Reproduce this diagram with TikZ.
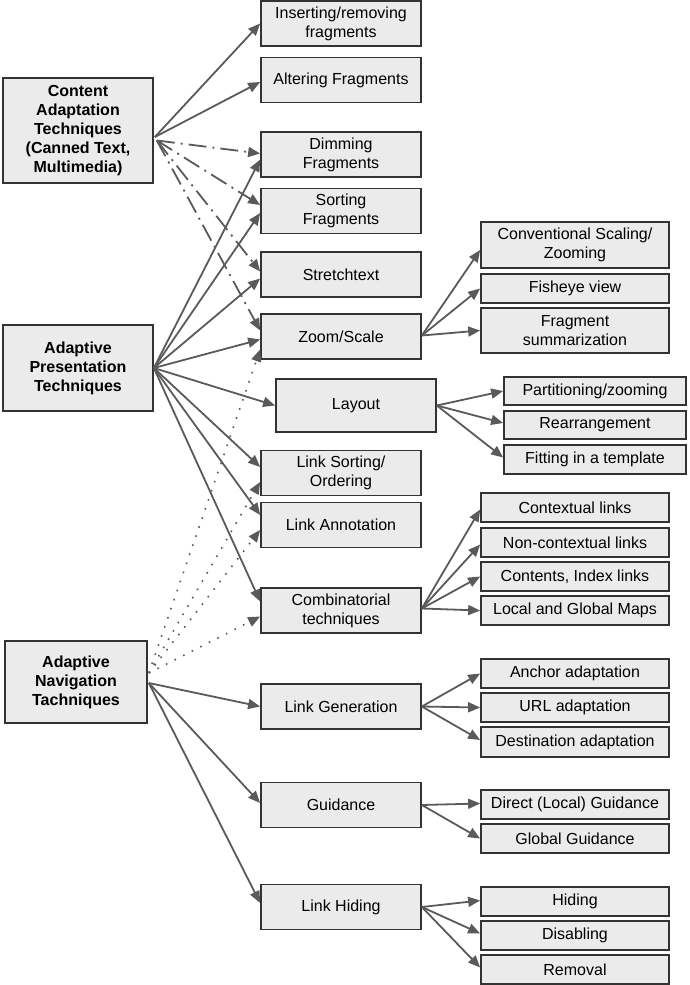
\documentclass[tikz,border=0pt]{standalone}
\usepackage{fontspec}
\setmainfont{Liberation Sans}
\usetikzlibrary{arrows.meta,calc}
\definecolor{boxfill}{HTML}{EBEBEB}
\definecolor{boxline}{HTML}{333333}
\definecolor{edgecol}{HTML}{5A5A5A}
\tikzset{
  box/.style={draw=boxline, line width=1.7pt, fill=boxfill, align=center,
    font=\fontsize{16}{19}\selectfont, inner sep=0pt},
  tbox/.style={box, font=\bfseries\fontsize{16}{19}\selectfont},
  c2/.style={box, minimum width=160pt, minimum height=45pt},
  c3/.style={box, minimum width=188pt, minimum height=29pt},
  c3b/.style={box, minimum width=182pt, minimum height=28pt},
  arr/.style={color=edgecol, line width=1.8pt, -{Triangle[length=12pt,width=10pt]}},
  dashdot/.style={arr, dash pattern=on 18pt off 6pt on 2pt off 6pt},
  dots/.style={arr, line width=1.6pt, dash pattern=on 1.6pt off 8pt},
}
\begin{document}
\begin{tikzpicture}[x=1pt,y=-1pt]
\useasboundingbox (0,0) rectangle (689,985);
% left column
\node[tbox, minimum width=150pt, minimum height=105pt] (cat) at (78,130.5)
  {Content\\Adaptation\\Techniques\\(Canned Text,\\Multimedia)};
\node[tbox, minimum width=150pt, minimum height=86pt] (apt) at (78,368)
  {Adaptive\\Presentation\\Techniques};
\node[tbox, minimum width=142pt, minimum height=82pt] (ant) at (76,682)
  {Adaptive\\Navigation\\Tachniques};
% middle column
\node[c2] (ins) at (341,23.5) {Inserting/removing\\fragments};
\node[c2] (alt) at (341,80) {Altering Fragments};
\node[c2] (dim) at (341,154.5) {Dimming\\Fragments};
\node[c2] (sor) at (341,211) {Sorting\\Fragments};
\node[c2] (str) at (341,274.5) {Stretchtext};
\node[c2] (zoo) at (341,336.5) {Zoom/Scale};
\node[c2, minimum height=53pt] (lay) at (356,405.5) {Layout};
\node[c2] (lso) at (341,473) {Link Sorting/\\Ordering};
\node[c2] (lan) at (341,525) {Link Annotation};
\node[c2] (com) at (341,610.5) {Combinatorial\\techniques};
\node[c2] (lge) at (341,706.5) {Link Generation};
\node[c2] (gui) at (341,805) {Guidance};
\node[c2] (lhi) at (341,907) {Link Hiding};
% right column
\node[c3, minimum height=46pt] (con) at (575,245) {Conventional Scaling/\\Zooming};
\node[c3] (fis) at (575,288.5) {Fisheye view};
\node[c3, minimum height=45pt] (fra) at (575,330.5) {Fragment\\summarization};
\node[c3b] (par) at (595,391) {Partitioning/zooming};
\node[c3b] (rea) at (595,425) {Rearrangement};
\node[c3b, minimum height=29pt] (fit) at (595,459.5) {Fitting in a template};
\node[c3] (ctx) at (575,507.5) {Contextual links};
\node[c3] (nct) at (575,542.5) {Non-contextual links};
\node[c3] (cin) at (575,576.5) {Contents, Index links};
\node[c3] (lgm) at (575,610.5) {Local and Global Maps};
\node[c3] (anc) at (575,673.5) {Anchor adaptation};
\node[c3] (url) at (575,707.5) {URL adaptation};
\node[c3, minimum height=30pt] (des) at (575,742) {Destination adaptation};
\node[c3] (dir) at (575,804.5) {Direct (Local) Guidance};
\node[c3] (glo) at (575,838.5) {Global Guidance};
\node[c3] (hid) at (575,901.5) {Hiding};
\node[c3] (dis) at (575,935.5) {Disabling};
\node[c3] (rem) at (575,969.5) {Removal};
% content adaptation edges
\draw[arr] ($(cat.east)+(1,6.5)$) -- (ins.west);
\draw[arr] ($(cat.east)+(1,6.5)$) -- ($(alt.west)+(0,2)$);
\draw[dashdot] ($(cat.east)+(3,10)$) -- ($(dim.west)+(0,-1)$);
\draw[dashdot] ($(cat.east)+(3,10)$) -- ($(sor.west)+(0,-6)$);
\draw[dashdot] ($(cat.east)+(3,10)$) -- ($(str.west)+(0,-3)$);
\draw[dashdot] ($(cat.east)+(3,10)$) -- ($(zoo.west)+(0,-6)$);
% presentation edges
\draw[arr] (apt.east) -- ($(dim.west)+(0,5)$);
\draw[arr] (apt.east) -- ($(sor.west)+(0,2)$);
\draw[arr] (apt.east) -- ($(str.west)+(0,4)$);
\draw[arr] (apt.east) -- ($(zoo.west)+(0,3)$);
\draw[arr] (apt.east) -- (lay.west);
\draw[arr] (apt.east) -- ($(lso.west)+(0,-6)$);
\draw[arr] (apt.east) -- ($(lan.west)+(0,-10)$);
\draw[arr] (apt.east) -- ($(com.west)+(0,-9)$);
% navigation edges
\draw[dots] ($(ant.east)+(1,-9)$) -- ($(zoo.west)+(0,13)$);
\draw[dots] ($(ant.east)+(1,-9)$) -- ($(lso.west)+(0,9)$);
\draw[dots] ($(ant.east)+(1,-9)$) -- ($(lan.west)+(0,5)$);
\draw[dots] ($(ant.east)+(1,-9)$) -- ($(com.west)+(0,6)$);
\draw[arr] ($(ant.east)+(1,1)$) -- (lge.west);
\draw[arr] ($(ant.east)+(1,1)$) -- ($(gui.west)+(0,-2)$);
\draw[arr] ($(ant.east)+(1,1)$) -- ($(lhi.west)+(0,-4)$);
% second level
\draw[arr] ($(zoo.east)+(0,-1)$) -- ($(con.west)+(0,5)$);
\draw[arr] ($(zoo.east)+(0,-1)$) -- (fis.west);
\draw[arr] ($(zoo.east)+(0,-1)$) -- (fra.west);
\draw[arr] (lay.east) -- (par.west);
\draw[arr] (lay.east) -- ($(rea.west)+(0,-2)$);
\draw[arr] (lay.east) -- ($(fit.west)+(0,-2)$);
\draw[arr] ($(com.east)+(0,-2)$) -- ($(ctx.west)+(0,2)$);
\draw[arr] ($(com.east)+(0,-2)$) -- ($(nct.west)+(0,2)$);
\draw[arr] ($(com.east)+(0,-2)$) -- (cin.west);
\draw[arr] ($(com.east)+(0,-2)$) -- (lgm.west);
\draw[arr] (lge.east) -- (anc.west);
\draw[arr] (lge.east) -- (url.west);
\draw[arr] (lge.east) -- ($(des.west)+(0,-2)$);
\draw[arr] (gui.east) -- ($(dir.west)+(0,-1)$);
\draw[arr] (gui.east) -- (glo.west);
\draw[arr] (lhi.east) -- ($(hid.west)+(0,-1)$);
\draw[arr] (lhi.east) -- ($(dis.west)+(0,-2)$);
\draw[arr] (lhi.east) -- ($(rem.west)+(0,-2)$);
\end{tikzpicture}
\end{document}
